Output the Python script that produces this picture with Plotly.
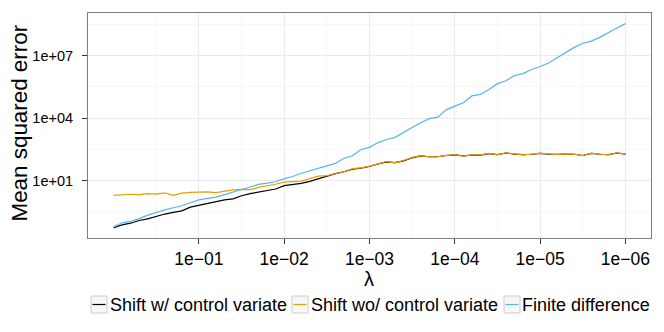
import plotly.graph_objects as go

# lambda grid (10 points per decade, 1 down to 1e-06)
lam = [
    1.0, 7.943e-01, 6.310e-01, 5.012e-01, 3.981e-01, 3.162e-01, 2.512e-01, 1.995e-01, 1.585e-01, 1.259e-01,
    1.0e-01, 7.943e-02, 6.310e-02, 5.012e-02, 3.981e-02, 3.162e-02, 2.512e-02, 1.995e-02, 1.585e-02, 1.259e-02,
    1.0e-02, 7.943e-03, 6.310e-03, 5.012e-03, 3.981e-03, 3.162e-03, 2.512e-03, 1.995e-03, 1.585e-03, 1.259e-03,
    1.0e-03, 7.943e-04, 6.310e-04, 5.012e-04, 3.981e-04, 3.162e-04, 2.512e-04, 1.995e-04, 1.585e-04, 1.259e-04,
    1.0e-04, 7.943e-05, 6.310e-05, 5.012e-05, 3.981e-05, 3.162e-05, 2.512e-05, 1.995e-05, 1.585e-05, 1.259e-05,
    1.0e-05, 7.943e-06, 6.310e-06, 5.012e-06, 3.981e-06, 3.162e-06, 2.512e-06, 1.995e-06, 1.585e-06, 1.259e-06,
    1.0e-06,
]

# log10(mean squared error)
shift_cv_log = [
    -1.26, -1.12, -1.04, -0.91, -0.83, -0.70, -0.60, -0.52, -0.45, -0.27,
    -0.18, -0.08, -0.01, 0.08, 0.13, 0.28, 0.38, 0.45, 0.52, 0.60,
    0.76, 0.81, 0.87, 0.97, 1.10, 1.21, 1.34, 1.43, 1.55, 1.60,
    1.68, 1.80, 1.90, 1.87, 1.95, 2.10, 2.19, 2.15, 2.15, 2.21,
    2.24, 2.19, 2.23, 2.23, 2.30, 2.25, 2.33, 2.28, 2.25, 2.27,
    2.31, 2.28, 2.26, 2.28, 2.27, 2.21, 2.31, 2.27, 2.25, 2.33, 2.28,
]
shift_nocv_log = [
    0.30, 0.34, 0.35, 0.33, 0.38, 0.36, 0.42, 0.30, 0.40, 0.44,
    0.45, 0.46, 0.43, 0.50, 0.56, 0.58, 0.57, 0.68, 0.75, 0.83,
    0.93, 0.95, 0.98, 1.10, 1.22, 1.24, 1.35, 1.43, 1.58, 1.62,
    1.70, 1.82, 1.92, 1.86, 1.97, 2.12, 2.20, 2.14, 2.16, 2.22,
    2.25, 2.18, 2.24, 2.24, 2.31, 2.24, 2.34, 2.29, 2.24, 2.28,
    2.32, 2.29, 2.25, 2.29, 2.28, 2.20, 2.32, 2.28, 2.24, 2.34, 2.29,
]
finite_diff_log = [
    -1.21, -1.02, -0.95, -0.82, -0.65, -0.52, -0.40, -0.30, -0.20, -0.06,
    0.08, 0.15, 0.21, 0.33, 0.44, 0.58, 0.70, 0.82, 0.88, 0.95,
    1.10, 1.20, 1.36, 1.47, 1.60, 1.72, 1.83, 2.08, 2.20, 2.50,
    2.60, 2.83, 2.98, 3.08, 3.33, 3.55, 3.78, 3.98, 4.05, 4.40,
    4.58, 4.74, 5.07, 5.14, 5.38, 5.66, 5.80, 6.05, 6.14, 6.34,
    6.48, 6.65, 6.90, 7.15, 7.40, 7.60, 7.70, 7.88, 8.12, 8.33, 8.54,
]

series_names = ["Shift w/ control variate", "Shift wo/ control variate", "Finite difference"]
series_colors = ["#000000", "#E69F00", "#56B4E9"]
series_logs = [shift_cv_log, shift_nocv_log, finite_diff_log]

x_tickvals = [1e-01, 1e-02, 1e-03, 1e-04, 1e-05, 1e-06]
x_ticktext = ["1e\u221201", "1e\u221202", "1e\u221203", "1e\u221204", "1e\u221205", "1e\u221206"]
x_minor = [10 ** -0.5, 10 ** -1.5, 10 ** -2.5, 10 ** -3.5, 10 ** -4.5, 10 ** -5.5]
y_tickvals = [1e01, 1e04, 1e07]
y_ticktext = ["1e+01", "1e+04", "1e+07"]
y_minor = [10 ** -0.5, 10 ** 2.5, 10 ** 5.5, 10 ** 8.5]

W, H = 664, 332
L, R, T, B = 88, 13, 13, 94
PW, PH = W - L - R, H - T - B
FONT = "Liberation Sans, Arial, Helvetica, sans-serif"

fig = go.Figure()
for name, color, logs in zip(series_names, series_colors, series_logs):
    fig.add_trace(
        go.Scatter(
            x=lam,
            y=[10 ** v for v in logs],
            mode="lines",
            name=name,
            line=dict(color=color, width=1.2),
            showlegend=False,
        )
    )


def paper_x(px):
    return (px - L) / PW


def paper_y(py):
    return (H - B - py) / PH


# legend drawn by hand (ggplot style key boxes below the plot)
key_left = [91, 292, 504]
text_left = [108.5, 309.5, 521]
key_w, key_top, key_bot = 16, 296, 313
shapes = []
annotations = []
for kx, tx, name, color in zip(key_left, text_left, series_names, series_colors):
    shapes.append(
        dict(
            type="rect", xref="paper", yref="paper",
            x0=paper_x(kx), x1=paper_x(kx + key_w),
            y0=paper_y(key_bot), y1=paper_y(key_top),
            line=dict(color="#cccccc", width=1), fillcolor="#f7f7f7",
        )
    )
    ym = paper_y((key_top + key_bot) / 2)
    shapes.append(
        dict(
            type="line", xref="paper", yref="paper",
            x0=paper_x(kx + 1.5), x1=paper_x(kx + key_w - 1.5), y0=ym, y1=ym,
            line=dict(color=color, width=1.2),
        )
    )
    annotations.append(
        dict(
            text=name, xref="paper", yref="paper",
            x=paper_x(tx), y=ym, xanchor="left", yanchor="middle",
            showarrow=False, font=dict(size=18, color="#000000", family=FONT),
            borderpad=0,
        )
    )

# axis titles
annotations.append(
    dict(
        text="\u03bb", xref="paper", yref="paper",
        x=paper_x(369), y=paper_y(279), xanchor="center", yanchor="middle",
        showarrow=False, font=dict(size=20, color="#000000", family=FONT),
        borderpad=0,
    )
)
annotations.append(
    dict(
        text="Mean squared error", xref="paper", yref="paper",
        x=paper_x(19), y=paper_y(123.5), xanchor="center", yanchor="middle",
        textangle=-90, showarrow=False,
        font=dict(size=22.4, color="#000000", family=FONT),
        borderpad=0,
    )
)

fig.update_layout(
    width=W,
    height=H,
    margin=dict(l=L, r=R, t=T, b=B, autoexpand=False),
    paper_bgcolor="white",
    plot_bgcolor="white",
    font=dict(family=FONT, color="#000000"),
    shapes=shapes,
    annotations=annotations,
)
fig.update_xaxes(
    type="log",
    automargin=False,
    range=[0.30, -6.30],
    tickvals=x_tickvals,
    ticktext=x_ticktext,
    tickfont=dict(size=17.5, color="#000000"),
    ticks="outside",
    ticklen=5,
    tickcolor="#333333",
    showgrid=True,
    gridcolor="#ebebeb",
    gridwidth=1,
    minor=dict(tickvals=x_minor, showgrid=True, gridcolor="#f7f7f7", ticks=""),
    showline=True,
    mirror=True,
    linecolor="#7f7f7f",
    linewidth=1,
    zeroline=False,
)
fig.update_yaxes(
    type="log",
    automargin=False,
    range=[-1.75, 9.05],
    tickvals=y_tickvals,
    ticktext=y_ticktext,
    tickfont=dict(size=14.5, color="#000000"),
    ticks="outside",
    ticklen=5,
    tickcolor="#333333",
    ticklabelstandoff=6,
    showgrid=True,
    gridcolor="#ebebeb",
    gridwidth=1,
    minor=dict(tickvals=y_minor, showgrid=True, gridcolor="#f7f7f7", ticks=""),
    showline=True,
    mirror=True,
    linecolor="#7f7f7f",
    linewidth=1,
    zeroline=False,
)

# the page's default body margin would push the figure 8px off the window
fig.write_html(
    "out.html",
    config={"displayModeBar": False},
    post_script="document.body.style.margin='0';",
)
